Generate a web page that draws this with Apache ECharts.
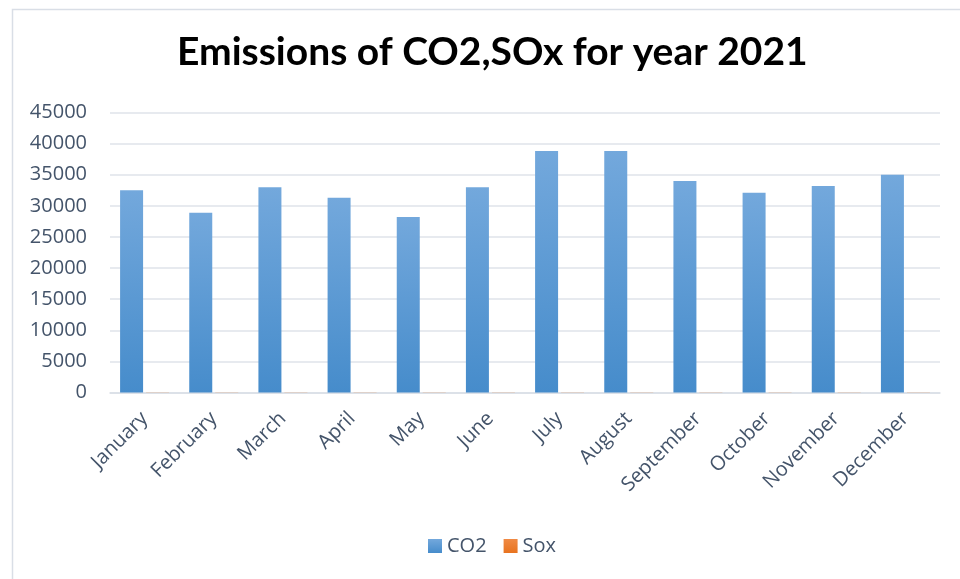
<!DOCTYPE html>
<html><head><meta charset="utf-8">
<script src="https://cdn.jsdelivr.net/npm/echarts@6/dist/echarts.min.js"></script>
<style>html,body{margin:0;padding:0;background:#fff}#c{width:960px;height:579px}</style>
</head><body><div id="c"></div>
<script>
const months = ["January","February","March","April","May","June","July","August","September","October","November","December"];
const co2 = [32500, 28900, 33000, 31300, 28200, 33000, 38800, 38800, 34000, 32100, 33200, 35000];
const sox = [25, 25, 25, 25, 25, 25, 25, 25, 25, 25, 25, 25];
const yTicks = [0, 5000, 10000, 15000, 20000, 25000, 30000, 35000, 40000, 45000];

const chart = echarts.init(document.getElementById('c'), null, {renderer:'canvas'});
const grad = (a,b)=>new echarts.graphic.LinearGradient(0,0,0,1,[{offset:0,color:a},{offset:1,color:b}]);
chart.setOption({
  animation:false,
  graphic:[{type:'rect',left:10,top:7,shape:{width:960,height:600},style:{fill:'none',stroke:'#d9dee6',lineWidth:1.5},silent:true}],
  title:{text:'Emissions of CO2,SOx for year 2021',left:177,top:33,padding:0,
    textStyle:{fontFamily:'Lato',fontWeight:'bold',fontSize:39,color:'#000'}},
  legend:{bottom:23,left:428,padding:0,itemWidth:14,itemHeight:14,itemGap:17,icon:'rect',
    textStyle:{fontFamily:'Open Sans',fontSize:20,color:'#44546a'},data:['CO2','Sox']},
  grid:{left:110,right:20,top:112.5,bottom:186.5,containLabel:false},
  xAxis:{type:'category',data:months,
    axisLine:{lineStyle:{color:'#d9dee6',width:1.5}},axisTick:{show:false},
    axisLabel:{rotate:45,interval:0,fontFamily:'Open Sans',fontSize:20,color:'#44546a',margin:23}},
  yAxis:{type:'value',min:0,max:45000,interval:5000,
    axisLine:{show:false},axisTick:{show:false},
    splitLine:{lineStyle:{color:'#dfe3ea',width:1.5}},
    axisLabel:{fontFamily:'Open Sans',fontSize:20,color:'#44546a',margin:23,
      formatter:v=>yTicks.includes(v)?String(v):''}},
  series:[
    {name:'CO2',type:'bar',data:co2,barWidth:23,barGap:'13%',
      itemStyle:{color:grad('#73a8dc','#468ccb')}},
    {name:'Sox',type:'bar',data:sox,barWidth:23,
      itemStyle:{color:grad('#f08a44','#e8731f')}}
  ]
});
</script></body></html>
